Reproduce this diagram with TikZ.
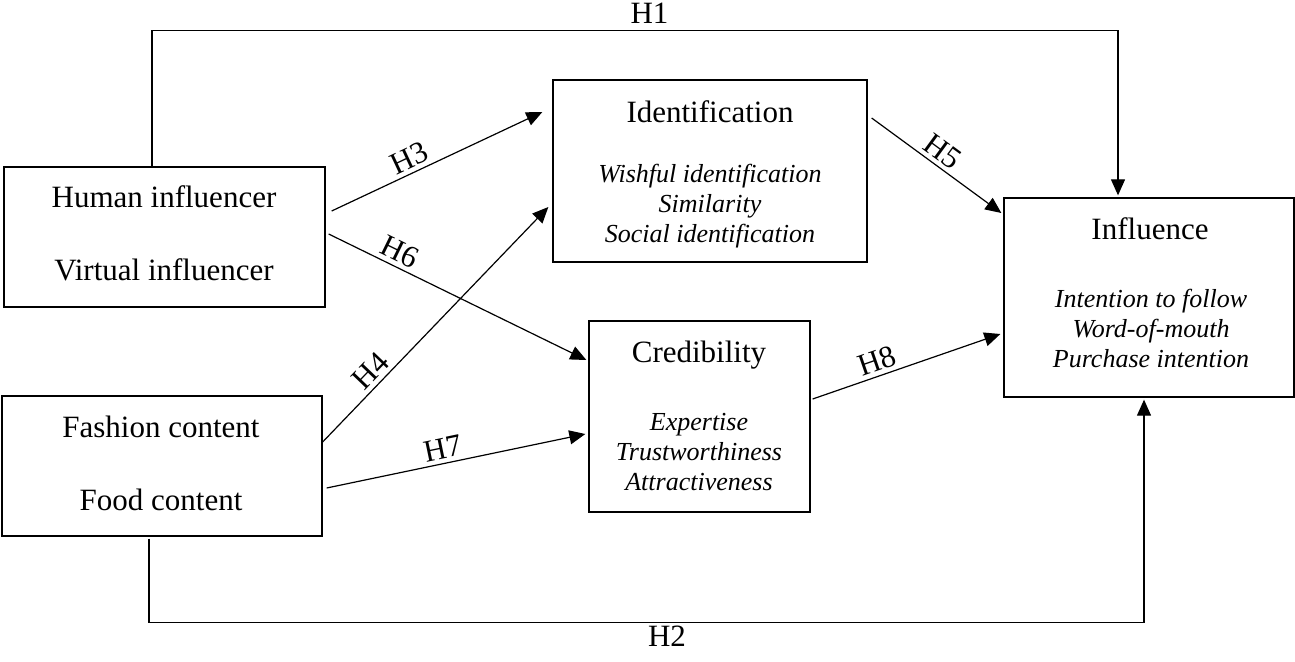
\documentclass[tikz,border=0pt]{standalone}
\usepackage{fontspec}
\setmainfont{Liberation Serif}
\usetikzlibrary{arrows.meta}
\begin{document}
\begin{tikzpicture}[x=1pt,y=-1pt,
  box/.style={draw, line width=1.3pt, inner sep=0pt},
  ttl/.style={inner sep=0pt, anchor=base, font=\fontsize{31}{36}\selectfont},
  itm/.style={inner sep=0pt, anchor=base, font=\fontsize{26}{30}\selectfont\itshape},
  lab/.style={inner sep=4pt, font=\fontsize{31}{35}\selectfont},
  arr/.style={line width=1.2pt, -{Triangle[length=16pt,width=14pt]}},
  link/.style={line width=1.2pt}]
\useasboundingbox (0,0) rectangle (1295,661);

% boxes
\node[box, minimum width=321pt, minimum height=140pt] (hum) at (164.5,237) {};
\node[box, minimum width=320pt, minimum height=140pt] (fas) at (162,466) {};
\node[box, minimum width=314pt, minimum height=182pt] (idn) at (710,171) {};
\node[box, minimum width=221pt, minimum height=191pt] (cre) at (699.5,416.5) {};
\node[box, minimum width=290pt, minimum height=199pt] (inf) at (1149,297.5) {};

% texts
\node[ttl] (t1) at (164,207) {Human influencer};
\node[ttl] (t2) at (164,280) {Virtual influencer};
\node[ttl] (t3) at (161,437) {Fashion content};
\node[ttl] (t4) at (161,510) {Food content};

\node[ttl] (t5) at (710,122) {Identification};
\node[itm] (t6) at (710,182) {Wishful identification};
\node[itm] (t7) at (710,212) {Similarity};
\node[itm] (t8) at (710,242) {Social identification};

\node[ttl] (t9) at (699,362) {Credibility};
\node[itm] (t10) at (699,430) {Expertise};
\node[itm] (t11) at (699,460) {Trustworthiness};
\node[itm] (t12) at (699,490) {Attractiveness};

\node[ttl] (t13) at (1150,239) {Influence};
\node[itm] (t14) at (1151,307) {Intention to follow};
\node[itm] (t15) at (1151,337) {Word-of-mouth};
\node[itm] (t16) at (1151,367) {Purchase intention};

% connectors
\draw[arr] ([shift={(-12.5,0)}]hum.north) -- ++(0,-136) -| ([shift={(-31,-2)}]inf.north);
\node[lab, anchor=base, inner sep=0pt] (lh1) at (649.5,24) {H1};

\draw[arr] ([shift={(-13,2)}]fas.south) -- ++(0,84) -| ([shift={(-5,2)}]inf.south);
\node[lab, anchor=base, inner sep=0pt] (lh2) at (667,646) {H2};

\draw[arr] ([shift={(6,-26)}]hum.east) -- node[lab, pos=0.4, sloped, above] (lh3) {H3} ([shift={(-10,-59)}]idn.west);
\draw[arr] ([shift={(3,-3)}]hum.east) -- node[lab, pos=0.25, sloped, above] (lh6) {H6} ([shift={(-2,-56.5)}]cre.west);
\draw[arr] ([shift={(0,-24)}]fas.east) -- node[lab, pos=0.26, sloped, above] (lh4) {H4} ([shift={(-4,36)}]idn.west);
\draw[arr] ([shift={(4,22)}]fas.east) -- node[lab, pos=0.46, sloped, above] (lh7) {H7} ([shift={(-3,17.5)}]cre.west);
\draw[arr] ([shift={(4,-53)}]idn.east) -- node[lab, pos=0.48, sloped, above] (lh5) {H5} ([shift={(-2,-84.5)}]inf.west);
\draw[arr] ([shift={(2,-17.5)}]cre.east) -- node[lab, pos=0.37, sloped, above] (lh8) {H8} ([shift={(-3,36.5)}]inf.west);
\end{tikzpicture}
\end{document}
